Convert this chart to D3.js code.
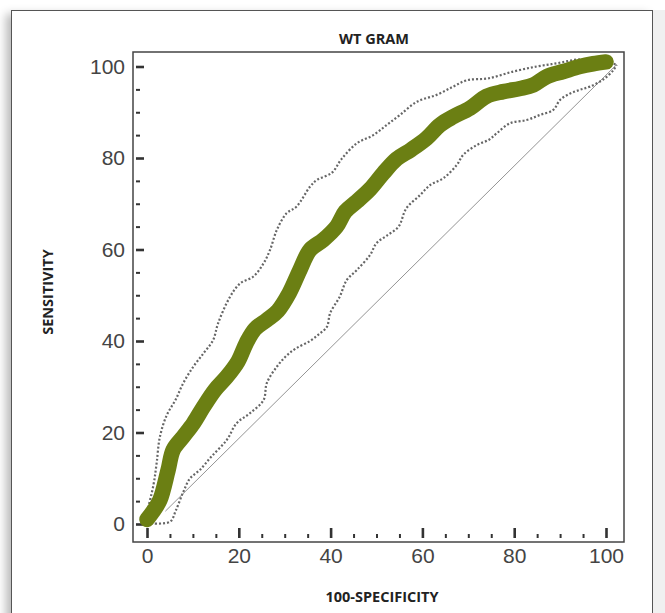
<!DOCTYPE html>
<html>
<head>
<meta charset="utf-8">
<script src="https://cdn.jsdelivr.net/npm/d3@7"></script>
<style>
    html, body { margin: 0; padding: 0; background: #fff; overflow: hidden; }
    .panel {
        position: absolute; left: 11px; top: 10px; width: 640px; height: 640px;
        border: 1px solid #555; background: #fff;
        box-shadow: -5px 4px 9px rgba(0, 0, 0, .28);
    }
    .rightband { position: absolute; left: 653px; top: 10px; width: 12px; height: 620px; background: #f0f0f0; }
    svg { position: absolute; left: 0; top: 0; }
</style>
</head>
<body>
<div class="panel"></div>
<div class="rightband"></div>
<svg></svg>
<script>

/*
*   Data (100-specificity vs sensitivity, in %)
*/

const ROC_X = [0, 1.2, 2.8, 4.6, 5.7, 7.9, 10.1, 12.3, 14.8, 17.4, 19.8, 21.6, 23.5, 26.1, 28.5, 31, 33.3, 35.5, 38.4, 41.3, 43.2, 45.7, 48.6, 51.5, 54.4, 57.5, 60.9, 63.8, 66.7, 70.4, 74, 77.6, 81.3, 84.2, 87.1, 90.7, 94.3, 97.2, 100]
const ROC_Y = [1, 2.6, 5.2, 11.8, 16.2, 19.1, 22, 25.6, 29.3, 32.2, 35.5, 39.5, 42.6, 44.6, 46.6, 50.5, 55.5, 59.9, 62.1, 65, 68.3, 70.5, 73.2, 76.7, 79.8, 81.8, 84.3, 87.2, 89, 90.9, 93.5, 94.5, 95.2, 96, 97.8, 98.9, 100, 100.6, 101]

const UPPER_X = [-0.4, 1.4, 2.1, 2.8, 4.3, 6.2, 7.9, 10.1, 12.3, 14.4, 15.5, 18, 20.3, 23.2, 25.4, 26.8, 28.3, 30.4, 32.6, 35.5, 37, 40.3, 42.4, 45.7, 49.3, 52.2, 55.1, 58.8, 63.1, 66.7, 69.7, 74.3, 79.8, 84.9, 89.3, 93.6, 98, 102.3]
const UPPER_Y = [1, 8.5, 13.3, 19, 23.8, 27.1, 30.8, 34.4, 37.3, 40.2, 43.9, 49.5, 52.6, 54.1, 57, 59.9, 64.3, 67.9, 69.4, 73.7, 75.2, 76.8, 79.8, 83.2, 85, 87.2, 89.4, 92.3, 93.8, 95.6, 97, 97.4, 98.9, 100, 100.7, 101.5, 101.5, 100.4]

const LOWER_X = [0, 5, 6.3, 7.9, 9.4, 11.5, 14, 17.4, 19.5, 22.4, 25.4, 26.1, 28.3, 30.4, 32.5, 35.5, 37.5, 39.2, 39.9, 42, 43.5, 45.7, 48.6, 50, 52.2, 54.8, 56.5, 59.5, 61.7, 64.6, 67.5, 68.9, 71.8, 74.5, 76.2, 79.1, 82.7, 85.6, 88.5, 90, 92.2, 94.3, 96.5, 99.3, 101.6, 102.3]
const LOWER_Y = [0.2, 0.5, 3, 7, 10, 11.8, 14.7, 18.4, 22, 24.2, 27.1, 30.8, 34.4, 36.8, 38.4, 40, 41.5, 43.1, 46.1, 49.7, 53.3, 55.5, 58.8, 61.4, 63, 65, 69, 71.9, 74.1, 75.6, 78.5, 80.7, 82.8, 84, 85.4, 87.6, 88.3, 89.4, 90.5, 92.7, 94.1, 94.9, 95.6, 97.1, 99.2, 100.4]

const DIAG_X = [4, 102.3]
const DIAG_Y = [2.8, 100.4]

const MAJOR_TICKS = [0, 20, 40, 60, 80, 100]
const MINOR_TICKS = [5, 10, 15, 25, 30, 35, 45, 50, 55, 65, 70, 75, 85, 90, 95]

const TITLE = 'WT GRAM'
const X_TITLE = '100-SPECIFICITY'
const Y_TITLE = 'SENSITIVITY'


/*
*   Layout
*/

const WIDTH = 665
const HEIGHT = 613
const FRAME = { left: 133, right: 624, top: 52, bottom: 542 }
const GREEN = '#6b7f13'
const TICK_COLOR = '#333'
const LABEL_FONT = '"Liberation Sans", Arial, sans-serif'
const TITLE_FONT = '"Open Sans", "DejaVu Sans", sans-serif'


/*
*   Scales
*/

const x = d3.scaleLinear().domain([0, 100]).range([147, 606])
const y = d3.scaleLinear().domain([0, 100]).range([524, 66.5])

const zip = (xs, ys) => xs.map((v, i) => [v, ys[i]])


/*
*   Execution entry point.
*/

const svg = d3.select('svg')
    .attr('width', WIDTH)
    .attr('height', HEIGHT)

// plot frame
svg.append('rect')
    .attr('x', FRAME.left)
    .attr('y', FRAME.top)
    .attr('width', FRAME.right - FRAME.left)
    .attr('height', FRAME.bottom - FRAME.top)
    .attr('fill', '#fff')
    .attr('stroke', '#444')
    .attr('stroke-width', 1.5)

// y ticks (inside the frame, pointing right)
const yMajor = svg.append('g')
    .attr('transform', `translate(${FRAME.left + 3},0)`)
    .call(d3.axisRight(y).tickValues(MAJOR_TICKS).tickSize(8).tickFormat(''))
const yMinor = svg.append('g')
    .attr('transform', `translate(${FRAME.left + 3},0)`)
    .call(d3.axisRight(y).tickValues(MINOR_TICKS).tickSize(4).tickFormat(''))

// x ticks (inside the frame, pointing up)
const xMajor = svg.append('g')
    .attr('transform', `translate(0,${FRAME.bottom - 4})`)
    .call(d3.axisTop(x).tickValues(MAJOR_TICKS).tickSize(10).tickFormat(''))
const xMinor = svg.append('g')
    .attr('transform', `translate(0,${FRAME.bottom - 4})`)
    .call(d3.axisTop(x).tickValues(MINOR_TICKS).tickSize(4).tickFormat(''))

;[yMajor, yMinor, xMajor, xMinor].forEach(g => {
    g.select('.domain').remove()
})
;[yMajor, xMajor].forEach(g => g.selectAll('line').attr('stroke', TICK_COLOR).attr('stroke-width', 2.6))
;[yMinor, xMinor].forEach(g => g.selectAll('line').attr('stroke', TICK_COLOR).attr('stroke-width', 2))

// tick labels
const yLabels = svg.append('g')
    .attr('transform', `translate(${FRAME.left - 8},0)`)
    .call(d3.axisLeft(y).tickValues(MAJOR_TICKS).tickSize(0).tickPadding(0))
yLabels.select('.domain').remove()
yLabels.selectAll('text')
    .attr('font-family', LABEL_FONT)
    .attr('font-size', 21)
    .attr('fill', '#444')

const xLabels = svg.append('g')
    .attr('transform', `translate(0,${FRAME.bottom + 6})`)
    .call(d3.axisBottom(x).tickValues(MAJOR_TICKS).tickSize(0).tickPadding(0))
xLabels.select('.domain').remove()
xLabels.selectAll('text')
    .attr('font-family', LABEL_FONT)
    .attr('font-size', 21)
    .attr('fill', '#444')

// titles
svg.append('text')
    .attr('x', 374)
    .attr('y', 44)
    .attr('text-anchor', 'middle')
    .attr('font-family', TITLE_FONT)
    .attr('font-weight', 'bold')
    .attr('font-size', 14.5)
    .attr('fill', '#222')
    .text(TITLE)

svg.append('text')
    .attr('x', 382)
    .attr('y', 602)
    .attr('text-anchor', 'middle')
    .attr('font-family', TITLE_FONT)
    .attr('font-weight', 'bold')
    .attr('font-size', 14.5)
    .attr('fill', '#222')
    .text(X_TITLE)

svg.append('text')
    .attr('transform', 'translate(53,292) rotate(-90)')
    .attr('text-anchor', 'middle')
    .attr('font-family', TITLE_FONT)
    .attr('font-weight', 'bold')
    .attr('font-size', 14.5)
    .attr('fill', '#222')
    .text(Y_TITLE)

// curves
const line = d3.line()
    .x(d => x(d[0]))
    .y(d => y(d[1]))
    .curve(d3.curveCatmullRom)

svg.append('path')
    .attr('d', d3.line().x(d => x(d[0])).y(d => y(d[1]))(zip(DIAG_X, DIAG_Y)))
    .attr('fill', 'none')
    .attr('stroke', '#888')
    .attr('stroke-width', 0.9)

;[zip(UPPER_X, UPPER_Y), zip(LOWER_X, LOWER_Y)].forEach(pts => {
    svg.append('path')
        .attr('d', line(pts))
        .attr('fill', 'none')
        .attr('stroke', '#666')
        .attr('stroke-width', 2.2)
        .attr('stroke-dasharray', '2,2')
})

svg.append('path')
    .attr('d', line(zip(ROC_X, ROC_Y)))
    .attr('fill', 'none')
    .attr('stroke', GREEN)
    .attr('stroke-width', 15.5)
    .attr('stroke-linecap', 'round')
    .attr('stroke-linejoin', 'round')

</script>
</body>
</html>
